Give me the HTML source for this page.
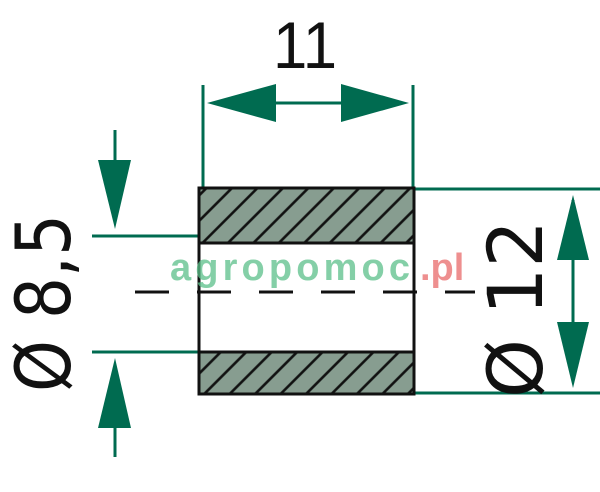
<!DOCTYPE html>
<html><head><style>html,body{margin:0;padding:0;background:#fff;}svg{display:block}</style></head>
<body>
<svg width="600" height="492" viewBox="0 0 600 492" xmlns="http://www.w3.org/2000/svg">
<defs>
<pattern id="h" patternUnits="userSpaceOnUse" width="18" height="18" patternTransform="rotate(45)">
<rect width="18" height="18" fill="#879d90"/>
<line x1="9" y1="0" x2="9" y2="18" stroke="#111" stroke-width="2.6"/>
</pattern>
</defs>
<g stroke="#006b50" stroke-width="3" fill="none">
<line x1="203" y1="85" x2="203" y2="188"/>
<line x1="413" y1="85" x2="413" y2="188"/>
<line x1="215" y1="103" x2="400" y2="103"/>
<line x1="92" y1="236" x2="199" y2="236"/>
<line x1="92" y1="352" x2="199" y2="352"/>
<line x1="115" y1="130" x2="115" y2="170"/>
<line x1="115" y1="420" x2="115" y2="457"/>
<line x1="414" y1="189" x2="600" y2="189"/>
<line x1="414" y1="393" x2="600" y2="393"/>
<line x1="573" y1="200" x2="573" y2="380"/>
</g>
<g fill="#006b50">
<polygon points="207,103 276,84 276,122"/>
<polygon points="409,103 341,84 341,122"/>
<polygon points="115,229 98,160 131,160"/>
<polygon points="115,358 98,428 131,428"/>
<polygon points="573,195 557,260 589,260"/>
<polygon points="573,388 557,322 589,322"/>
</g>
<rect x="199" y="188" width="215" height="55" fill="url(#h)" stroke="#111" stroke-width="3"/>
<rect x="199" y="352" width="215" height="42" fill="url(#h)" stroke="#111" stroke-width="3"/>
<line x1="199" y1="243" x2="199" y2="352" stroke="#111" stroke-width="3"/>
<line x1="414" y1="243" x2="414" y2="352" stroke="#111" stroke-width="3"/>
<line x1="135" y1="292" x2="475" y2="292" stroke="#111" stroke-width="3" stroke-dasharray="34,28"/>
<text x="305" y="68" font-family="Liberation Sans, sans-serif" font-size="66" text-anchor="middle" fill="#111" textLength="64" lengthAdjust="spacingAndGlyphs">11</text>
<text transform="translate(70,392) rotate(-90)" font-family="DejaVu Sans, sans-serif" font-size="76" fill="#111" textLength="178" lengthAdjust="spacingAndGlyphs">Ø 8,5</text>
<text transform="translate(542,398) rotate(-90)" font-family="DejaVu Sans, sans-serif" font-size="76" fill="#111" textLength="178" lengthAdjust="spacingAndGlyphs">Ø 12</text>
<text x="170" y="280" font-family="Liberation Sans, sans-serif" font-size="38" font-weight="bold" fill="#5cc08a" opacity="0.75" textLength="240" lengthAdjust="spacing">agropomoc</text>
<text x="420" y="280" font-family="Liberation Sans, sans-serif" font-size="38" font-weight="bold" fill="#e86060" opacity="0.7">.pl</text>
</svg>
</body></html>
